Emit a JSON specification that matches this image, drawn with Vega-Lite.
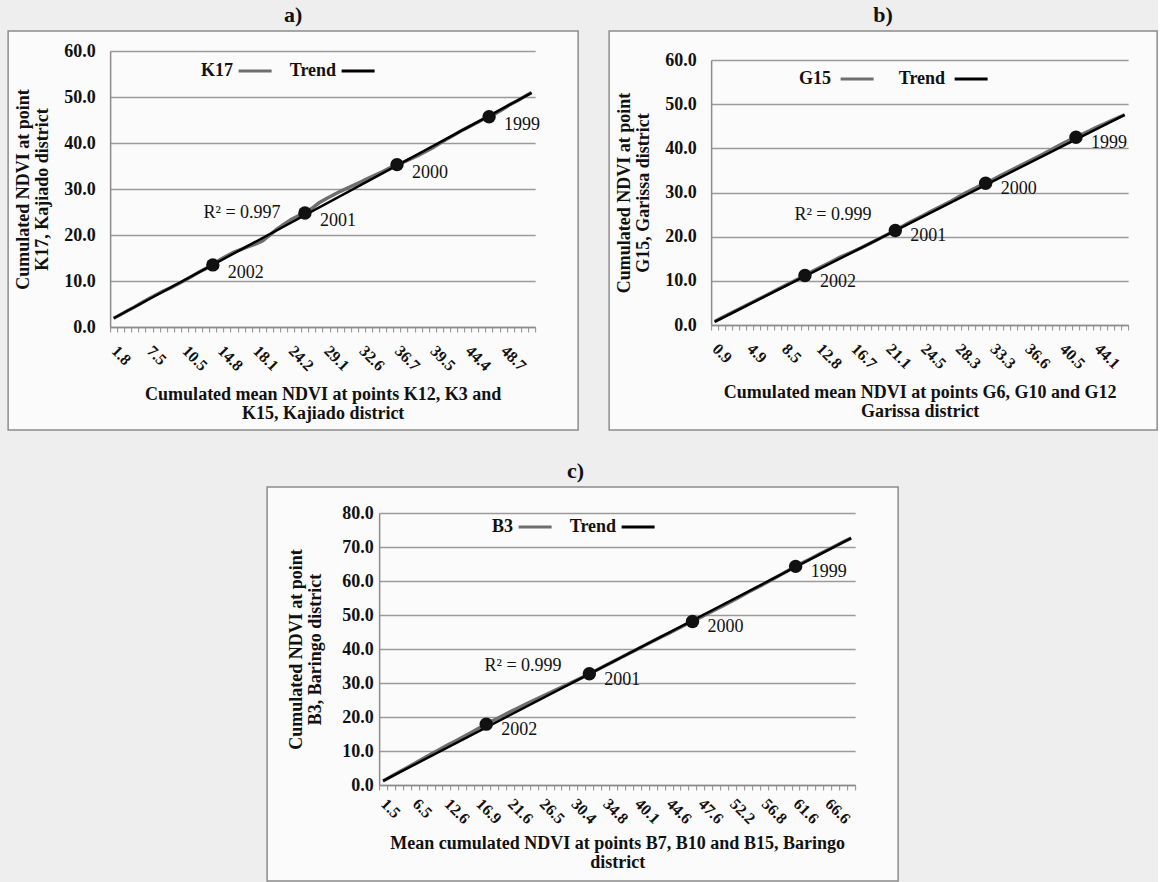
{
  "$schema": "https://vega.github.io/schema/vega-lite/v6.json",
  "background": "#eeeeee",
  "padding": {"left": 1, "top": 3, "right": 0, "bottom": 0},
  "config": {
    "font": "Liberation Serif",
    "view": {"stroke": "#8c8c8c", "strokeWidth": 1.5, "fill": "#fbfbfb"},
    "title": {"fontSize": 22, "fontWeight": "bold", "offset": 4, "color": "#111111"},
    "axisX": {"labelAngle": 45, "labelAlign": "left", "labelBaseline": "middle", "labelFontSize": 16, "labelFontWeight": "bold", "labelPadding": 16, "tickBand": "extent", "tickSize": 5, "tickWidth": 1, "tickColor": "#8c8c8c", "domainColor": "#8c8c8c", "domainWidth": 1.5, "grid": false, "titleFontSize": 18, "titleFontWeight": "bold", "titlePadding": 12, "titleLineHeight": 19, "labelColor": "#111111", "titleColor": "#111111"},
    "axisY": {"labelFontSize": 18, "labelFontWeight": "bold", "labelPadding": 15, "ticks": false, "grid": true, "gridColor": "#9a9a9a", "gridWidth": 1.5, "domainColor": "#8c8c8c", "domainWidth": 1.5, "titleFontSize": 18, "titleFontWeight": "bold", "titlePadding": 12, "titleLineHeight": 19, "labelColor": "#111111", "titleColor": "#111111"},
    "legend": {"labelFontSize": 18, "labelFontWeight": "bold", "labelColor": "#111111", "symbolType": "stroke", "symbolStrokeWidth": 3, "symbolSize": 1089, "direction": "horizontal", "orient": "none", "columnPadding": 11}
  },
  "datasets": {
    "a": [
      {"m":1.8,"v":1.9},{"m":3.0,"v":2.7},{"m":4.2,"v":3.6},{"m":5.3,"v":4.4},{"m":6.4,"v":5.3},
      {"m":7.5,"v":6.2},{"m":8.1,"v":7.0},{"m":8.7,"v":7.8},{"m":9.3,"v":8.5},{"m":9.9,"v":9.3},
      {"m":10.5,"v":10.1},{"m":11.4,"v":11.0},{"m":12.2,"v":11.9},{"m":13.1,"v":12.7},{"m":13.9,"v":13.5,"yr":"2002"},
      {"m":14.8,"v":14.6},{"m":15.5,"v":15.5},{"m":16.1,"v":16.3},{"m":16.8,"v":16.9},{"m":17.4,"v":17.5},
      {"m":18.1,"v":18.0},{"m":19.3,"v":18.7},{"m":20.5,"v":19.9},{"m":21.7,"v":21.2},{"m":23.0,"v":22.3},
      {"m":24.2,"v":23.3},{"m":25.2,"v":24.1},{"m":26.2,"v":24.8,"yr":"2001"},{"m":27.1,"v":25.8},{"m":28.1,"v":27.0},
      {"m":29.1,"v":27.9},{"m":29.8,"v":28.7},{"m":30.5,"v":29.5},{"m":31.2,"v":30.2},{"m":31.9,"v":30.9},
      {"m":32.6,"v":31.6},{"m":33.4,"v":32.4},{"m":34.2,"v":33.1},{"m":35.1,"v":33.8},{"m":35.9,"v":34.6},
      {"m":36.7,"v":35.3,"yr":"2000"},{"m":37.3,"v":35.9},{"m":37.8,"v":36.6},{"m":38.4,"v":37.3},{"m":38.9,"v":38.1},
      {"m":39.5,"v":38.9},{"m":40.5,"v":39.9},{"m":41.5,"v":40.8},{"m":42.4,"v":41.7},{"m":43.4,"v":42.6},
      {"m":44.4,"v":43.4},{"m":45.3,"v":44.2},{"m":46.1,"v":45.0},{"m":47.0,"v":45.7,"yr":"1999"},{"m":47.8,"v":46.5},
      {"m":48.7,"v":47.4},{"m":49.6,"v":48.4},{"m":50.4,"v":49.2},{"m":51.3,"v":50.1},{"m":52.1,"v":51.0}
    ],
    "ta": [{"m":1.8,"v":1.9},{"m":52.1,"v":50.9}],
    "b": [
      {"m":0.9,"v":0.8},{"m":1.7,"v":1.6},{"m":2.5,"v":2.4},{"m":3.3,"v":3.2},{"m":4.1,"v":4.0},
      {"m":4.9,"v":4.8},{"m":5.6,"v":5.6},{"m":6.3,"v":6.4},{"m":7.1,"v":7.2},{"m":7.8,"v":8.0},
      {"m":8.5,"v":8.8},{"m":9.4,"v":9.6},{"m":10.2,"v":10.4},{"m":11.1,"v":11.2,"yr":"2002"},{"m":11.9,"v":12.1},
      {"m":12.8,"v":12.9},{"m":13.6,"v":13.7},{"m":14.4,"v":14.5},{"m":15.1,"v":15.3},{"m":15.9,"v":16.0},
      {"m":16.7,"v":16.7},{"m":17.6,"v":17.4},{"m":18.5,"v":18.2},{"m":19.4,"v":19.0},{"m":20.2,"v":19.8},
      {"m":21.1,"v":20.6},{"m":21.8,"v":21.4,"yr":"2001"},{"m":22.5,"v":22.3},{"m":23.1,"v":23.2},{"m":23.8,"v":24.0},
      {"m":24.5,"v":24.8},{"m":25.3,"v":25.6},{"m":26.0,"v":26.4},{"m":26.8,"v":27.2},{"m":27.5,"v":28.0},
      {"m":28.3,"v":28.9},{"m":29.3,"v":29.8},{"m":30.3,"v":30.6},{"m":31.3,"v":31.4},{"m":32.3,"v":32.1,"yr":"2000"},
      {"m":33.3,"v":32.9},{"m":34.0,"v":33.7},{"m":34.6,"v":34.5},{"m":35.3,"v":35.3},{"m":35.9,"v":36.1},
      {"m":36.6,"v":36.9},{"m":37.4,"v":37.7},{"m":38.2,"v":38.5},{"m":38.9,"v":39.3},{"m":39.7,"v":40.2},
      {"m":40.5,"v":41.0},{"m":41.2,"v":41.8},{"m":41.9,"v":42.5,"yr":"1999"},{"m":42.7,"v":43.3},{"m":43.4,"v":44.0},
      {"m":44.1,"v":44.8},{"m":44.8,"v":45.5},{"m":45.5,"v":46.2},{"m":46.2,"v":46.9},{"m":46.9,"v":47.6}
    ],
    "tb": [{"m":0.9,"v":0.7},{"m":46.9,"v":47.6}],
    "c": [
      {"m":1.5,"v":1.2},{"m":2.8,"v":2.5},{"m":4.0,"v":3.8},{"m":5.3,"v":5.1},{"m":6.5,"v":6.4},
      {"m":8.0,"v":7.7},{"m":9.6,"v":9.0},{"m":11.1,"v":10.3},{"m":12.6,"v":11.6},{"m":13.7,"v":12.8},
      {"m":14.7,"v":14.0},{"m":15.8,"v":15.3},{"m":16.9,"v":16.6},{"m":18.1,"v":17.9,"yr":"2002"},{"m":19.3,"v":19.1},
      {"m":20.4,"v":20.3},{"m":21.6,"v":21.5},{"m":22.8,"v":22.6},{"m":24.1,"v":23.8},{"m":25.3,"v":24.9},
      {"m":26.5,"v":26.0},{"m":27.5,"v":27.1},{"m":28.4,"v":28.2},{"m":29.4,"v":29.3},{"m":30.4,"v":30.4},
      {"m":31.5,"v":31.5},{"m":32.6,"v":32.7,"yr":"2001"},{"m":33.7,"v":33.9},{"m":34.8,"v":35.1},{"m":36.1,"v":36.3},
      {"m":37.5,"v":37.5},{"m":38.8,"v":38.7},{"m":40.1,"v":39.9},{"m":41.2,"v":41.1},{"m":42.3,"v":42.3},
      {"m":43.5,"v":43.5},{"m":44.6,"v":44.6},{"m":45.4,"v":45.8},{"m":46.1,"v":47.0},{"m":46.9,"v":48.1,"yr":"2000"},
      {"m":47.6,"v":49.3},{"m":48.8,"v":50.5},{"m":49.9,"v":51.7},{"m":51.1,"v":52.9},{"m":52.2,"v":54.1},
      {"m":53.4,"v":55.4},{"m":54.5,"v":56.7},{"m":55.7,"v":57.9},{"m":56.8,"v":59.1},{"m":58.0,"v":60.4},
      {"m":59.2,"v":61.7},{"m":60.4,"v":63.0},{"m":61.6,"v":64.3,"yr":"1999"},{"m":62.9,"v":65.5},{"m":64.1,"v":66.7},
      {"m":65.4,"v":67.9},{"m":66.6,"v":69.1},{"m":67.8,"v":70.3},{"m":69.0,"v":71.5},{"m":70.2,"v":72.6}
    ],
    "tc": [{"m":1.5,"v":1.2},{"m":70.2,"v":72.6}]
  },
  "vconcat": [
    {
      "hconcat": [
        {
          "width": 570, "height": 399,
          "title": {"text": "a)"},
          "encoding": {
            "x": {"field": "m", "type": "ordinal", "bandPosition": 0.5,
              "scale": {"type": "band", "paddingInner": 0, "paddingOuter": 0, "range": [102, 527]},
              "axis": {"offset": -103, "labelExpr": "round(datum.index*59) % 5 === 0 ? format(datum.value, '.1f') : ''",
                "title": ["Cumulated mean NDVI at points K12, K3 and", "K15, Kajiado district"]}},
            "y": {"field": "v", "type": "quantitative",
              "scale": {"domain": [0, 60], "range": [296, 20], "nice": false, "zero": false},
              "axis": {"offset": -102, "values": [0, 10, 20, 30, 40, 50, 60], "format": ".1f",
                "title": ["Cumulated NDVI at point", "K17, Kajiado district"]}}
          },
          "layer": [
            {"data": {"name": "a"}, "mark": {"type": "line", "strokeWidth": 3.5},
              "encoding": {"color": {"datum": "K17", "scale": {"domain": ["K17", "Trend"], "range": ["#6e6e6e", "#000000"]},
                "legend": {"title": null, "legendX": 229, "legendY": 22, "labelAlign": "right", "labelOffset": -40}}}},
            {"data": {"name": "ta"}, "mark": {"type": "line", "strokeWidth": 2.5},
              "encoding": {"color": {"datum": "Trend"}}},
            {"data": {"name": "a"}, "transform": [{"filter": "datum.yr != null"}],
              "mark": {"type": "point", "shape": "circle", "filled": true, "size": 180, "color": "#111111", "opacity": 1}},
            {"data": {"name": "a"}, "transform": [{"filter": "datum.yr != null"}],
              "mark": {"type": "text", "align": "left", "baseline": "middle", "dx": 15, "dy": 8, "fontSize": 18, "color": "#111111"},
              "encoding": {"text": {"field": "yr"}}},
            {"data": {"values": [{"m": 21.7, "v": 24.7, "label": "R² = 0.997"}]},
              "mark": {"type": "text", "align": "right", "baseline": "middle", "dx": 4, "fontSize": 18, "color": "#111111"},
              "encoding": {"text": {"field": "label"}}}
          ]
        },
        {
          "width": 548, "height": 399,
          "title": {"text": "b)"},
          "encoding": {
            "x": {"field": "m", "type": "ordinal", "bandPosition": 0.5,
              "scale": {"type": "band", "paddingInner": 0, "paddingOuter": 0, "range": [102, 519]},
              "axis": {"offset": -105, "labelExpr": "round(datum.index*59) % 5 === 0 ? format(datum.value, '.1f') : ''",
                "title": ["Cumulated mean NDVI at points G6,  G10 and G12", "Garissa district"]}},
            "y": {"field": "v", "type": "quantitative",
              "scale": {"domain": [0, 60], "range": [294, 29], "nice": false, "zero": false},
              "axis": {"offset": -102, "values": [0, 10, 20, 30, 40, 50, 60], "format": ".1f",
                "title": ["Cumulated NDVI at point", "G15, Garissa district"]}}
          },
          "layer": [
            {"data": {"name": "b"}, "mark": {"type": "line", "strokeWidth": 3.5},
              "encoding": {"color": {"datum": "G15", "scale": {"domain": ["G15", "Trend"], "range": ["#6e6e6e", "#000000"]},
                "legend": {"title": null, "legendX": 230, "legendY": 30, "labelAlign": "right", "labelOffset": -44, "columnPadding": 18}}}},
            {"data": {"name": "tb"}, "mark": {"type": "line", "strokeWidth": 2.5},
              "encoding": {"color": {"datum": "Trend"}}},
            {"data": {"name": "b"}, "transform": [{"filter": "datum.yr != null"}],
              "mark": {"type": "point", "shape": "circle", "filled": true, "size": 180, "color": "#111111", "opacity": 1}},
            {"data": {"name": "b"}, "transform": [{"filter": "datum.yr != null"}],
              "mark": {"type": "text", "align": "left", "baseline": "middle", "dx": 15, "dy": 6, "fontSize": 18, "color": "#111111"},
              "encoding": {"text": {"field": "yr"}}},
            {"data": {"values": [{"m": 18.5, "v": 24.9, "label": "R² = 0.999"}]},
              "mark": {"type": "text", "align": "right", "baseline": "middle", "dx": 4, "fontSize": 18, "color": "#111111"},
              "encoding": {"text": {"field": "label"}}}
          ]
        }
      ],
      "spacing": 23,
      "resolve": {"scale": {"color": "independent", "x": "independent", "y": "independent"}, "legend": {"color": "independent"}}
    },
    {
      "width": 631, "height": 394,
      "title": {"text": "c)", "dx": -7},
      "encoding": {
        "x": {"field": "m", "type": "ordinal", "bandPosition": 0.5,
          "scale": {"type": "band", "paddingInner": 0, "paddingOuter": 0, "range": [112, 588]},
          "axis": {"offset": -96, "labelPadding": 11, "titlePadding": 8, "labelExpr": "round(datum.index*59) % 4 === 0 ? format(datum.value, '.1f') : ''",
            "title": ["Mean cumulated NDVI at points B7, B10 and B15, Baringo", "district"]}},
        "y": {"field": "v", "type": "quantitative",
          "scale": {"domain": [0, 80], "range": [298, 26], "nice": false, "zero": false},
          "axis": {"offset": -112, "labelPadding": 6, "titlePadding": 17, "values": [0, 10, 20, 30, 40, 50, 60, 70, 80], "format": ".1f",
            "title": ["Cumulated NDVI at point", "B3, Baringo district"]}}
      },
      "layer": [
        {"data": {"name": "c"}, "mark": {"type": "line", "strokeWidth": 3.5},
          "encoding": {"color": {"datum": "B3", "scale": {"domain": ["B3", "Trend"], "range": ["#6e6e6e", "#000000"]},
            "legend": {"title": null, "legendX": 250, "legendY": 22, "labelAlign": "right", "labelOffset": -40}}}},
        {"data": {"name": "tc"}, "mark": {"type": "line", "strokeWidth": 2.5},
          "encoding": {"color": {"datum": "Trend"}}},
        {"data": {"name": "c"}, "transform": [{"filter": "datum.yr != null"}],
          "mark": {"type": "point", "shape": "circle", "filled": true, "size": 180, "color": "#111111", "opacity": 1}},
        {"data": {"name": "c"}, "transform": [{"filter": "datum.yr != null"}],
          "mark": {"type": "text", "align": "left", "baseline": "middle", "dx": 15, "dy": 6, "fontSize": 18, "color": "#111111"},
          "encoding": {"text": {"field": "yr"}}},
        {"data": {"values": [{"m": 28.4, "v": 35.1, "label": "R² = 0.999"}]},
          "mark": {"type": "text", "align": "right", "baseline": "middle", "dx": 4, "fontSize": 18, "color": "#111111"},
          "encoding": {"text": {"field": "label"}}}
      ]
    }
  ],
  "spacing": 28,
  "center": true,
  "resolve": {"scale": {"color": "independent", "x": "independent", "y": "independent"}, "legend": {"color": "independent"}}
}
